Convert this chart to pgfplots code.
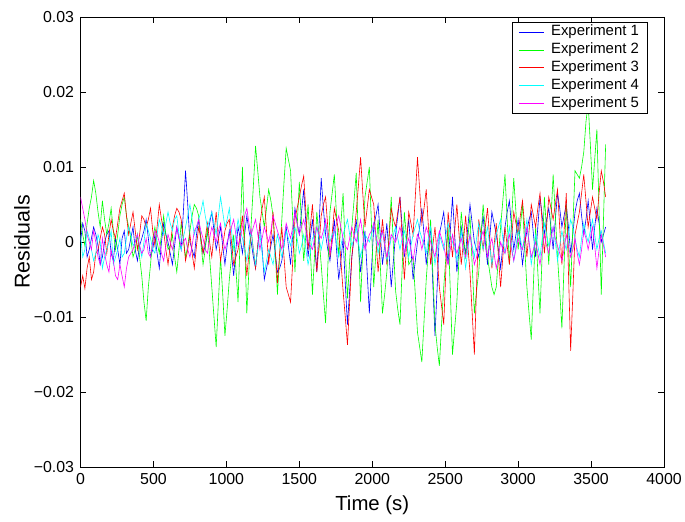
\documentclass[border=0pt]{standalone}
\usepackage{pgfplots}
\pgfplotsset{compat=1.18}
\usepackage{pgfplotstable}
\usepackage{fontspec}
\setmainfont{Liberation Sans}

\pgfplotstableread{
t e1 e2 e3 e4 e5
0 0.0000 0.0030 -0.0060 0.0010 0.0060
15 0.0025 0.0010 -0.0045 -0.0020 0.0045
30 0.0015 -0.0005 -0.0062 -0.0010 0.0030
45 -0.0020 0.0025 -0.0035 0.0015 0.0010
60 -0.0010 0.0045 -0.0020 0.0005 0.0000
75 0.0005 0.0060 -0.0050 -0.0010 -0.0010
90 0.0020 0.0082 -0.0040 -0.0025 0.0015
105 0.0010 0.0065 -0.0015 -0.0015 0.0000
120 -0.0005 0.0040 -0.0010 0.0010 -0.0020
135 -0.0030 0.0020 0.0005 0.0000 -0.0030
150 -0.0020 0.0055 0.0020 -0.0035 0.0005
165 0.0000 0.0030 0.0010 -0.0020 -0.0015
180 0.0010 0.0010 -0.0015 -0.0010 -0.0030
195 0.0015 0.0025 0.0010 0.0000 -0.0040
210 -0.0015 0.0045 0.0030 0.0015 -0.0010
225 -0.0025 0.0015 0.0015 -0.0030 -0.0025
240 0.0005 -0.0010 0.0005 -0.0020 -0.0045
255 -0.0010 0.0010 0.0025 -0.0010 -0.0050
270 -0.0030 0.0035 0.0045 0.0005 -0.0030
285 0.0005 0.0050 0.0055 -0.0020 -0.0045
300 0.0015 0.0060 0.0065 -0.0015 -0.0060
315 -0.0015 0.0035 0.0035 0.0005 -0.0035
330 -0.0010 0.0020 0.0010 0.0020 -0.0020
345 0.0005 0.0005 0.0025 0.0010 -0.0015
360 0.0020 -0.0020 0.0040 -0.0005 -0.0010
375 -0.0010 -0.0010 0.0015 0.0000 0.0000
390 -0.0025 0.0010 -0.0010 0.0010 0.0010
405 -0.0005 -0.0020 0.0010 -0.0005 -0.0005
420 0.0005 -0.0045 0.0035 -0.0020 -0.0015
435 0.0015 -0.0080 0.0030 0.0000 -0.0010
450 0.0030 -0.0105 0.0020 0.0025 0.0005
465 0.0005 -0.0060 0.0030 0.0015 -0.0015
480 -0.0020 -0.0030 0.0045 0.0005 -0.0020
495 -0.0010 0.0005 0.0015 -0.0010 0.0000
510 0.0010 0.0020 -0.0005 -0.0015 0.0015
525 -0.0015 0.0000 0.0020 0.0010 0.0010
540 -0.0035 -0.0015 0.0050 0.0030 0.0000
555 0.0000 0.0010 0.0030 0.0020 -0.0015
570 0.0025 0.0035 0.0015 0.0010 -0.0025
585 0.0010 0.0010 -0.0010 0.0025 -0.0005
600 0.0000 -0.0010 -0.0030 0.0040 0.0010
615 -0.0015 -0.0005 -0.0005 0.0025 0.0000
630 -0.0030 0.0010 0.0020 0.0015 -0.0010
645 -0.0005 -0.0020 0.0035 0.0030 0.0005
660 0.0020 -0.0040 0.0045 0.0035 0.0020
675 0.0005 -0.0010 0.0040 0.0010 0.0005
690 -0.0010 0.0025 0.0030 -0.0010 -0.0005
705 0.0040 0.0005 0.0005 0.0005 0.0000
720 0.0095 -0.0020 -0.0025 0.0020 0.0005
735 0.0050 -0.0005 -0.0010 0.0035 -0.0010
750 0.0000 0.0015 0.0010 0.0050 -0.0020
765 -0.0010 0.0035 -0.0015 0.0030 -0.0005
780 -0.0020 0.0050 -0.0035 0.0010 0.0015
795 0.0010 0.0045 -0.0005 0.0020 0.0020
810 0.0030 0.0035 0.0020 0.0030 0.0030
825 0.0005 0.0000 0.0005 0.0040 0.0015
840 -0.0015 -0.0030 -0.0015 0.0055 0.0005
855 -0.0005 -0.0010 0.0005 0.0035 -0.0010
870 0.0010 0.0020 0.0025 0.0020 -0.0015
885 0.0025 -0.0020 0.0000 0.0030 0.0005
900 0.0040 -0.0060 -0.0020 0.0040 0.0020
915 0.0015 -0.0100 0.0010 0.0025 0.0010
930 -0.0010 -0.0140 0.0040 0.0010 0.0000
945 0.0005 -0.0080 0.0005 0.0035 0.0015
960 0.0020 -0.0020 -0.0025 0.0060 0.0025
975 -0.0005 -0.0070 -0.0005 0.0040 0.0005
990 -0.0030 -0.0125 0.0015 0.0020 -0.0010
1005 -0.0005 -0.0090 0.0025 0.0030 0.0000
1020 0.0015 -0.0050 0.0030 0.0045 0.0010
1035 -0.0015 -0.0020 0.0000 0.0015 0.0020
1050 -0.0045 0.0010 -0.0030 -0.0010 0.0030
1065 -0.0010 -0.0035 -0.0020 0.0010 0.0010
1080 0.0020 -0.0080 -0.0010 0.0030 -0.0005
1095 0.0005 0.0010 0.0010 0.0015 0.0005
1110 -0.0015 0.0100 0.0035 0.0005 0.0020
1125 0.0010 0.0005 -0.0005 -0.0010 0.0035
1140 0.0035 -0.0095 -0.0045 -0.0025 0.0045
1155 0.0015 -0.0035 -0.0015 -0.0005 0.0025
1170 0.0000 0.0025 0.0015 0.0015 0.0010
1185 -0.0020 0.0075 -0.0010 -0.0010 0.0020
1200 -0.0035 0.0128 -0.0035 -0.0030 0.0030
1215 -0.0005 0.0095 -0.0005 -0.0010 0.0010
1230 0.0025 0.0060 0.0025 0.0010 -0.0010
1245 -0.0010 0.0040 0.0045 -0.0015 0.0005
1260 -0.0050 0.0020 0.0060 -0.0040 0.0020
1275 -0.0035 0.0045 0.0015 -0.0025 0.0010
1290 -0.0020 0.0070 -0.0030 -0.0010 0.0000
1305 -0.0005 0.0055 0.0005 -0.0020 0.0015
1320 0.0010 0.0035 0.0040 -0.0030 0.0035
1335 -0.0015 -0.0015 -0.0010 -0.0010 0.0025
1350 -0.0040 -0.0070 -0.0055 0.0010 0.0015
1365 -0.0035 -0.0020 -0.0015 -0.0005 0.0005
1380 -0.0025 0.0030 0.0020 -0.0020 -0.0010
1395 -0.0005 0.0080 -0.0020 -0.0005 0.0005
1410 0.0020 0.0125 -0.0060 0.0015 0.0025
1425 -0.0005 0.0110 -0.0070 0.0005 0.0015
1440 -0.0030 0.0095 -0.0080 -0.0005 0.0005
1455 0.0010 0.0030 -0.0025 0.0010 0.0020
1470 0.0045 -0.0040 0.0030 0.0020 0.0040
1485 0.0025 0.0020 0.0045 0.0005 0.0025
1500 0.0010 0.0080 0.0060 -0.0015 0.0010
1515 0.0040 0.0025 0.0075 -0.0005 0.0020
1530 0.0070 -0.0025 0.0088 0.0010 0.0030
1545 0.0025 0.0010 0.0040 -0.0010 0.0015
1560 -0.0020 0.0050 -0.0010 -0.0030 0.0000
1575 0.0005 -0.0010 0.0020 -0.0015 -0.0005
1590 0.0030 -0.0070 0.0050 0.0005 -0.0010
1605 -0.0005 -0.0015 0.0005 0.0010 0.0005
1620 -0.0040 0.0040 -0.0040 0.0020 0.0020
1635 0.0020 0.0005 -0.0005 0.0005 0.0010
1650 0.0085 -0.0030 0.0035 -0.0010 0.0005
1665 0.0045 -0.0070 0.0050 0.0005 0.0015
1680 0.0010 -0.0108 0.0060 0.0025 0.0030
1695 -0.0010 -0.0035 0.0020 0.0010 0.0005
1710 -0.0025 0.0040 -0.0020 0.0000 -0.0015
1725 0.0000 0.0065 0.0010 0.0010 0.0000
1740 0.0030 0.0090 0.0045 0.0015 0.0015
1755 -0.0010 0.0035 0.0030 0.0000 0.0025
1770 -0.0050 -0.0020 0.0015 -0.0020 0.0035
1785 -0.0025 0.0025 -0.0025 -0.0005 0.0020
1800 0.0005 0.0065 -0.0065 0.0010 0.0005
1815 -0.0055 -0.0010 -0.0100 0.0020 -0.0005
1830 -0.0110 -0.0075 -0.0137 0.0030 -0.0010
1845 -0.0065 -0.0025 -0.0080 0.0010 0.0005
1860 -0.0020 0.0020 -0.0020 -0.0005 0.0020
1875 0.0005 0.0055 0.0010 0.0005 0.0010
1890 0.0030 0.0092 0.0040 0.0020 0.0000
1905 -0.0005 0.0005 0.0075 0.0000 0.0015
1920 -0.0040 -0.0080 0.0113 -0.0020 0.0030
1935 -0.0010 -0.0010 0.0065 -0.0005 0.0010
1950 0.0015 0.0060 0.0020 0.0010 -0.0010
1965 -0.0040 0.0080 0.0045 0.0005 0.0000
1980 -0.0095 0.0100 0.0070 0.0000 0.0010
1995 -0.0035 0.0020 0.0060 0.0010 0.0015
2010 0.0020 -0.0060 0.0050 0.0025 0.0025
2025 0.0035 -0.0015 0.0005 0.0005 0.0010
2040 0.0050 0.0030 -0.0040 -0.0015 -0.0005
2055 0.0010 -0.0030 -0.0005 0.0000 0.0005
2070 -0.0030 -0.0095 0.0030 0.0015 0.0015
2085 -0.0005 -0.0070 0.0000 -0.0005 -0.0005
2100 0.0025 -0.0040 -0.0030 -0.0025 -0.0020
2115 -0.0015 0.0010 0.0005 -0.0010 -0.0005
2130 -0.0060 0.0060 0.0045 0.0005 0.0010
2145 -0.0025 -0.0005 0.0030 0.0010 0.0005
2160 0.0010 -0.0065 0.0020 0.0020 0.0000
2175 0.0035 -0.0090 0.0040 0.0005 0.0010
2190 0.0060 -0.0110 0.0060 -0.0010 0.0020
2205 0.0020 -0.0035 0.0005 0.0005 0.0005
2220 -0.0020 0.0040 -0.0050 0.0015 -0.0015
2235 0.0005 0.0005 -0.0005 0.0000 -0.0005
2250 0.0030 -0.0030 0.0040 -0.0020 0.0005
2265 -0.0010 -0.0025 0.0025 -0.0005 -0.0010
2280 -0.0050 -0.0020 0.0010 0.0010 -0.0025
2295 -0.0025 -0.0070 0.0060 0.0020 -0.0005
2310 0.0000 -0.0120 0.0113 0.0030 0.0010
2325 0.0020 -0.0140 0.0070 0.0015 0.0005
2340 0.0045 -0.0160 0.0025 0.0005 -0.0010
2355 0.0010 -0.0105 0.0045 -0.0005 0.0005
2370 -0.0030 -0.0050 0.0070 -0.0015 0.0020
2385 -0.0005 -0.0010 0.0020 0.0005 0.0010
2400 0.0020 0.0030 -0.0030 0.0020 0.0000
2415 -0.0055 -0.0040 -0.0005 -0.0005 -0.0010
2430 -0.0125 -0.0110 0.0020 -0.0030 -0.0020
2445 -0.0060 -0.0140 -0.0020 -0.0010 0.0000
2460 0.0010 -0.0165 -0.0060 0.0010 0.0015
2475 0.0025 -0.0110 -0.0085 0.0000 0.0005
2490 0.0040 -0.0060 -0.0110 -0.0010 -0.0005
2505 0.0005 -0.0020 -0.0035 0.0010 -0.0020
2520 -0.0030 0.0020 0.0040 0.0025 -0.0030
2535 0.0015 -0.0065 0.0010 0.0010 -0.0010
2550 0.0060 -0.0150 -0.0020 0.0000 0.0010
2565 0.0010 -0.0115 0.0015 -0.0010 -0.0005
2580 -0.0040 -0.0080 0.0050 -0.0025 -0.0015
2595 -0.0010 -0.0020 0.0010 -0.0005 -0.0005
2610 0.0020 0.0040 -0.0030 0.0015 0.0005
2625 0.0000 0.0010 0.0000 -0.0010 -0.0010
2640 -0.0015 -0.0020 0.0035 -0.0035 -0.0020
2655 0.0020 0.0005 -0.0005 -0.0010 -0.0005
2670 0.0050 0.0035 -0.0040 0.0010 0.0010
2685 0.0025 -0.0030 -0.0095 -0.0005 -0.0010
2700 0.0000 -0.0095 -0.0150 -0.0020 -0.0030
2715 -0.0010 -0.0065 -0.0060 0.0005 -0.0020
2730 -0.0020 -0.0040 0.0030 0.0025 -0.0005
2745 0.0010 0.0005 0.0010 0.0005 0.0005
2760 0.0035 0.0050 -0.0010 -0.0010 0.0015
2775 0.0000 0.0015 0.0020 0.0005 -0.0005
2790 -0.0030 -0.0020 0.0045 0.0020 -0.0020
2805 0.0005 -0.0040 0.0005 -0.0005 -0.0005
2820 0.0040 -0.0060 -0.0035 -0.0030 0.0005
2835 0.0025 -0.0070 -0.0005 -0.0010 -0.0015
2850 0.0010 -0.0060 0.0025 0.0010 -0.0035
2865 -0.0010 -0.0020 -0.0020 0.0020 -0.0020
2880 -0.0035 0.0020 -0.0060 0.0030 0.0000
2895 -0.0005 0.0055 -0.0020 0.0005 -0.0010
2910 0.0020 0.0090 0.0020 -0.0015 -0.0015
2925 0.0040 0.0030 -0.0005 0.0000 0.0000
2940 0.0055 -0.0030 -0.0030 0.0020 0.0010
2955 0.0020 0.0030 0.0005 -0.0005 -0.0010
2970 -0.0010 0.0085 0.0040 -0.0025 -0.0025
2985 0.0010 0.0040 0.0025 -0.0005 -0.0010
3000 0.0030 -0.0010 0.0010 0.0015 0.0005
3015 0.0000 0.0020 0.0035 0.0005 -0.0005
3030 -0.0030 0.0050 0.0055 -0.0010 -0.0010
3045 -0.0005 -0.0005 0.0020 0.0010 0.0005
3060 0.0015 -0.0060 -0.0020 0.0030 0.0020
3075 0.0030 -0.0095 0.0015 0.0000 0.0000
3090 0.0040 -0.0130 0.0050 -0.0030 -0.0020
3105 0.0010 -0.0055 0.0035 -0.0010 -0.0010
3120 -0.0020 0.0020 0.0020 0.0010 0.0000
3135 0.0020 -0.0040 0.0045 -0.0005 -0.0015
3150 0.0060 -0.0095 0.0065 -0.0020 -0.0030
3165 0.0035 -0.0015 0.0025 0.0005 -0.0010
3180 0.0010 0.0060 -0.0015 0.0025 0.0010
3195 0.0030 0.0015 0.0020 0.0010 -0.0005
3210 0.0045 -0.0030 0.0060 -0.0005 -0.0015
3225 0.0020 0.0030 0.0045 0.0005 0.0005
3240 -0.0010 0.0090 0.0030 0.0020 0.0020
3255 0.0030 0.0035 0.0050 0.0000 0.0005
3270 0.0065 -0.0020 0.0070 -0.0025 -0.0005
3285 0.0045 -0.0065 0.0020 -0.0005 -0.0015
3300 0.0020 -0.0115 -0.0030 0.0015 -0.0025
3315 0.0035 -0.0030 0.0015 0.0000 -0.0010
3330 0.0050 0.0050 0.0065 -0.0010 0.0010
3345 0.0020 -0.0005 -0.0040 0.0010 -0.0005
3360 -0.0015 -0.0060 -0.0145 0.0030 -0.0020
3375 0.0010 0.0020 -0.0070 0.0020 -0.0010
3390 0.0040 0.0095 0.0010 0.0005 0.0005
3405 0.0055 0.0090 0.0025 -0.0010 -0.0015
3420 0.0065 0.0085 0.0040 -0.0020 -0.0030
3435 0.0035 0.0100 0.0065 0.0005 -0.0010
3450 0.0010 0.0120 0.0090 0.0025 0.0015
3465 0.0030 0.0160 0.0055 0.0010 0.0005
3480 0.0055 0.0185 0.0020 0.0000 -0.0010
3495 0.0025 0.0130 0.0040 0.0015 0.0005
3510 -0.0010 0.0070 0.0060 0.0030 0.0020
3525 0.0020 0.0110 0.0045 0.0010 -0.0005
3540 0.0045 0.0150 0.0030 -0.0010 -0.0035
3555 0.0025 0.0040 0.0065 0.0005 -0.0010
3570 0.0000 -0.0070 0.0095 0.0015 0.0010
3585 0.0010 0.0030 0.0080 0.0000 -0.0005
3600 0.0020 0.0130 0.0060 -0.0015 -0.0020
}\datatable

\definecolor{mblue}{rgb}{0,0,1}
\definecolor{mgreen}{rgb}{0,1,0}
\definecolor{mred}{rgb}{1,0,0}
\definecolor{mcyan}{rgb}{0,1,1}
\definecolor{mmagenta}{rgb}{1,0,1}

\begin{document}
\begin{tikzpicture}
\begin{axis}[
  scale only axis,
  width=587pt, height=453pt,
  xmin=0, xmax=4000, ymin=-0.03, ymax=0.03,
  xtick={0,500,...,4000},
  xticklabels={0,500,1000,1500,2000,2500,3000,3500,4000},
  ytick={-0.03,-0.02,-0.01,0,0.01,0.02,0.03},
  yticklabels={−0.03,−0.02,−0.01,0,0.01,0.02,0.03},
  scaled y ticks=false,
  tick align=inside,
  tick pos=both,
  major tick length=6pt,
  tick style={black, line width=0.5pt},
  axis line style={black, line width=0.6pt},
  ticklabel style={font=\fontsize{16}{19}\selectfont},
  xticklabel style={yshift=-3pt},
  yticklabel style={xshift=-3pt},
  xlabel={Time (s)},
  ylabel={Residuals},
  every axis x label/.style={at={(axis description cs:0.5,-0.084)}, anchor=center, font=\fontsize{20.5}{23}\selectfont},
  every axis y label/.style={at={(axis description cs:-0.1005,0.5)}, anchor=center, rotate=90, font=\fontsize{21.5}{24}\selectfont},
  legend style={at={(rel axis cs:1,1)}, xshift=-17pt, yshift=-5pt, anchor=north east,
    font=\fontsize{15}{16}\selectfont, draw=black, line width=0.5pt,
    inner xsep=6pt, inner ysep=3pt, row sep=4pt,
    nodes={inner ysep=0pt, text height=10.5pt, text depth=3.5pt}},
  legend image code/.code={\draw[#1, line width=0.8pt] (0pt,0pt) -- (25pt,0pt); \path (30pt,0pt);},
  legend cell align=left,
  every axis plot/.append style={line width=0.6pt, mark=none},
]
\addplot[draw=mblue] table[x=t, y=e1] {\datatable};
\addlegendentry{Experiment 1}
\addplot[draw=mgreen] table[x=t, y=e2] {\datatable};
\addlegendentry{Experiment 2}
\addplot[draw=mred] table[x=t, y=e3] {\datatable};
\addlegendentry{Experiment 3}
\addplot[draw=mcyan] table[x=t, y=e4] {\datatable};
\addlegendentry{Experiment 4}
\addplot[draw=mmagenta] table[x=t, y=e5] {\datatable};
\addlegendentry{Experiment 5}
\end{axis}
\path (current axis.south west) ++(-81pt,-55pt) (current axis.north east) ++(17pt,17pt);
\end{tikzpicture}
\end{document}
